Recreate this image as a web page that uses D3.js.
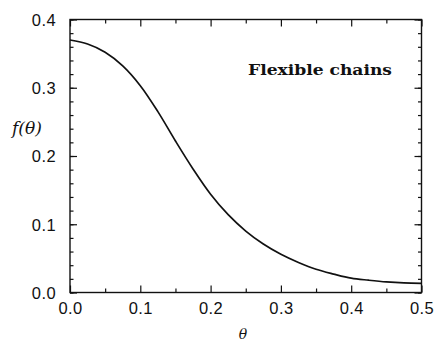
<!DOCTYPE html>
<html>
<head>
<meta charset="utf-8">
<script src="https://cdn.jsdelivr.net/npm/d3@7"></script>
<style>
	body { margin: 0; background: #fff; }
	svg { display: block; }
	.tick-label { font-family: "Liberation Sans", Arial, sans-serif; font-size: 16.5px; fill: #111; letter-spacing: 0.4px; }
</style>
</head>
<body>
<svg id="chart" width="436" height="341"></svg>
<script>
// curve
var theta = [0, 0.025, 0.05, 0.075, 0.1, 0.125, 0.15, 0.175, 0.2, 0.225, 0.25, 0.275, 0.3, 0.325, 0.35, 0.375, 0.4, 0.425, 0.45, 0.475, 0.5];
var ftheta = [0.370, 0.364, 0.352, 0.332, 0.303, 0.265, 0.222, 0.181, 0.144, 0.114, 0.090, 0.071, 0.056, 0.044, 0.034, 0.027, 0.021, 0.018, 0.0155, 0.014, 0.0135];

var xTicks = [0, 0.1, 0.2, 0.3, 0.4, 0.5];
var yTicks = [0, 0.1, 0.2, 0.3, 0.4];
var xMinor = [0.05, 0.15, 0.25, 0.35, 0.45];
var yMinor = d3.range(0, 0.4001, 0.02);

var margin = {top: 19.5, right: 14.5, bottom: 48.5, left: 70};
var svg = d3.select("#chart"),
	width = 436 - margin.left - margin.right,
	height = 341 - margin.top - margin.bottom;

var x = d3.scaleLinear().domain([0, 0.5]).range([0, width]);
var y = d3.scaleLinear().domain([0, 0.4]).range([height, 0]);

var g = svg.append("g")
	.attr("transform", "translate(" + margin.left + "," + margin.top + ")");

// ticks point inwards on all four sides
var fmt = d3.format(".1f");
var drawAxis = function(axis, ticks, len, transform, labels) {
	var a = g.append("g")
		.attr("transform", transform)
		.call(axis.tickValues(ticks).tickSize(-len).tickFormat(labels ? fmt : ""));
	a.select(".domain").remove();
	a.selectAll("line").attr("stroke", "#111").attr("stroke-width", 1.2);
	a.selectAll("text").attr("class", "tick-label").attr("font-size", null).attr("font-family", null);
	return a;
};

var bottom = drawAxis(d3.axisBottom(x), xTicks, 7, "translate(0," + height + ")", true);
bottom.selectAll("text").attr("y", 10).attr("dy", "0.71em");
drawAxis(d3.axisBottom(x), xMinor, 4, "translate(0," + height + ")", false);
drawAxis(d3.axisTop(x), xTicks, 7, "translate(0,0)", false);
drawAxis(d3.axisTop(x), xMinor, 4, "translate(0,0)", false);

var left = drawAxis(d3.axisLeft(y), yTicks, 7, "translate(0,0)", true);
left.selectAll("text").attr("x", -14).attr("dy", "0.36em");
drawAxis(d3.axisLeft(y), yMinor, 3.5, "translate(0,0)", false);
drawAxis(d3.axisRight(y), yTicks, 7, "translate(" + width + ",0)", false);
drawAxis(d3.axisRight(y), yMinor, 3.5, "translate(" + width + ",0)", false);

// frame
g.append("rect")
	.attr("width", width)
	.attr("height", height)
	.attr("fill", "none")
	.attr("stroke", "#111")
	.attr("stroke-width", 1.4);

var line = d3.line()
	.x(function(d, i) { return x(theta[i]); })
	.y(function(d) { return y(d); })
	.curve(d3.curveCatmullRom);

g.append("path")
	.datum(ftheta)
	.attr("d", line)
	.attr("fill", "none")
	.attr("stroke", "#111")
	.attr("stroke-width", 1.7);

// labels
svg.append("text")
	.attr("x", 12)
	.attr("y", 134)
	.attr("font-family", "'DejaVu Serif', serif")
	.attr("font-style", "italic")
	.attr("font-size", 17)
	.attr("fill", "#111")
	.text("f(θ)");

// axis title sits at the very bottom edge, keep it inside the window
svg.append("text")
	.attr("x", 243)
	.attr("y", 339)
	.attr("text-anchor", "middle")
	.attr("font-family", "'DejaVu Serif', serif")
	.attr("font-style", "italic")
	.attr("font-size", 14)
	.attr("fill", "#111")
	.text("θ");

svg.append("text")
	.attr("x", 248)
	.attr("y", 75)
	.attr("font-family", "'DejaVu Serif', serif")
	.attr("font-weight", "bold")
	.attr("font-size", 15)
	.attr("textLength", 144)
	.attr("lengthAdjust", "spacingAndGlyphs")
	.attr("fill", "#111")
	.text("Flexible chains");
</script>
</body>
</html>
